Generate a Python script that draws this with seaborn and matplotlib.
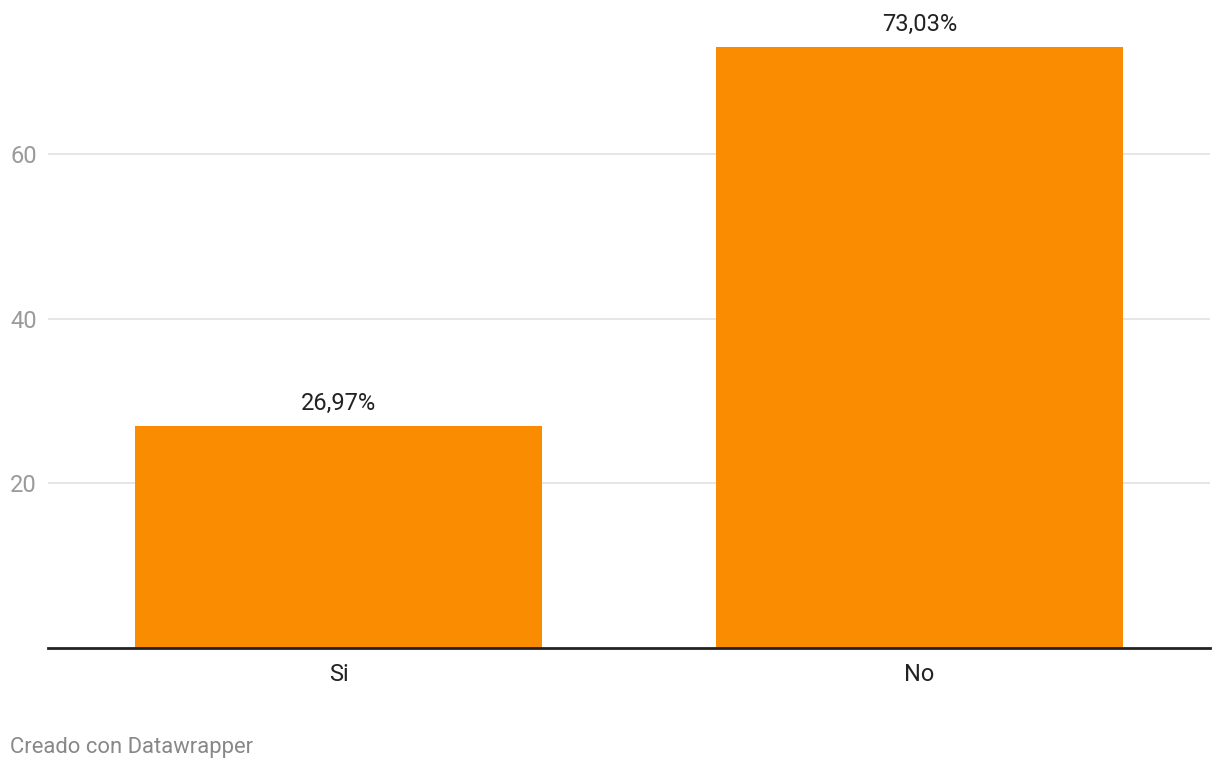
import pandas as pd
import matplotlib.pyplot as plt
import seaborn as sns

# ----- Data ----- #
categories = ["Si", "No"]
values = [26.97, 73.03]
value_labels = ["26,97%", "73,03%"]
y_ticks = [20, 40, 60]

sns.set_theme(style="white")
plt.rcParams['font.family'] = ['Roboto', 'DejaVu Sans']

df = pd.DataFrame({"respuesta": categories, "porcentaje": values})

fig = plt.figure(figsize=(12.2, 7.68), dpi=100)
ax = fig.add_axes([48 / 1220, 120 / 768, 1162 / 1220, 642 / 768])

sns.barplot(data=df, x="respuesta", y="porcentaje", color="#f98c00",
            saturation=1, width=0.7, linewidth=0, ax=ax, zorder=3)

ax.set_xlim(-0.5, 1.5)
ax.set_ylim(0, 78)
ax.set_xlabel("")
ax.set_ylabel("")

# grid + ticks
ax.set_yticks(y_ticks)
ax.yaxis.grid(True, color="#e2e2e2", linewidth=1.2, zorder=0)
ax.tick_params(axis="y", length=0, labelsize=17, labelcolor="#9a9a9a", pad=0)
for lbl in ax.get_yticklabels():
    lbl.set_horizontalalignment("left")
    lbl.set_x(-38 / 1162)
ax.tick_params(axis="x", length=0, labelsize=17, labelcolor="#222222", pad=11)

sns.despine(ax=ax, left=True, right=True, top=True)
ax.spines['bottom'].set_color("#222222")
ax.spines['bottom'].set_linewidth(2)
ax.spines['bottom'].set_zorder(4)

# value labels on top of bars
for bar, txt in zip(ax.patches, value_labels):
    ax.annotate(txt, (bar.get_x() + bar.get_width() / 2, bar.get_height()),
                xytext=(0, 8), textcoords="offset points",
                ha="center", va="bottom", fontsize=17, color="#222222")

fig.text(10 / 1220, 1 - 753 / 768, "Creado con Datawrapper", fontsize=15.8,
         color="#888888", ha="left", va="baseline")

plt.savefig("out.png", dpi=100)
